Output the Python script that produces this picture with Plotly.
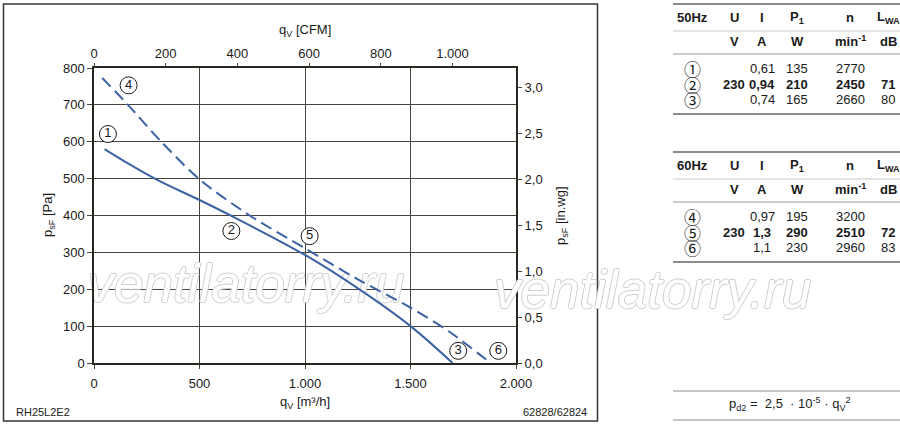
"""Fan curve RH25L2E2 -- static pressure vs. air flow, 50 Hz and 60 Hz."""

import plotly.graph_objects as go

# air flow q_V [m3/h] and static pressure p_sF [Pa]
FLOW_50HZ = [50, 150, 295, 500, 658, 1000, 1244, 1500, 1699]
PRESS_50HZ = [580, 545, 498, 442, 397, 293, 205, 100, 0]
FLOW_60HZ = [39, 153, 319, 500, 738, 1000, 1244, 1500, 1686, 1879]
PRESS_60HZ = [773, 705, 600, 498, 400, 311, 229, 150, 84, 0]

# operating point markers
POINT_NAMES = ['1', '2', '3', '4', '5', '6']
POINT_FLOW = [66, 651, 1726, 164, 1022, 1916]
POINT_PRESS = [621, 358, 33, 753, 344, 33]

FLOW_TICKS = [0, 500, 1000, 1500, 2000]
FLOW_LABELS = ['0', '500', '1.000', '1.500', '2.000']
PRESS_TICKS = [0, 100, 200, 300, 400, 500, 600, 700, 800]
CFM_TICKS = [0, 200, 400, 600, 800, 1000]
CFM_LABELS = ['0', '200', '400', '600', '800', '1.000']
INWG_TICKS = [0, 0.5, 1.0, 1.5, 2.0, 2.5, 3.0]
INWG_LABELS = ['0,0', '0,5', '1,0', '1,5', '2,0', '2,5', '3,0']

M3H_TO_CFM = 0.588578
PA_PER_INWG = 249.089

# data tables
TABLE_HEAD_50 = ['50Hz', 'U', 'I', 'P<sub>1</sub>', 'n', 'L<sub>WA</sub>']
TABLE_HEAD_60 = ['60Hz', 'U', 'I', 'P<sub>1</sub>', 'n', 'L<sub>WA</sub>']
TABLE_UNITS = ['', 'V', 'A', 'W', 'min<sup>-1</sup>', 'dB']
ROWS_50 = [['\u2460', '', '0,61', '135', '2770', ''],
           ['\u2461', '230', '0,94', '210', '2450', '71'],
           ['\u2462', '', '0,74', '165', '2660', '80']]
ROWS_60 = [['\u2463', '', '0,97', '195', '3200', ''],
           ['\u2464', '230', '1,3', '290', '2510', '72'],
           ['\u2465', '', '1,1', '230', '2960', '83']]

FONT = 'Liberation Sans, Arial, sans-serif'
TEXT = '#1a1a1a'
BLUE = '#3b63a3'
GRID = '#4a4440'
FRAME = '#2b2520'

W, H = 900, 426
L, R, T, B = 94, 384, 68, 63


def px(x):
    """pixel x -> paper x"""
    return (x - L) / (W - L - R)


def py(y):
    """pixel y -> paper y"""
    return (H - B - y) / (H - T - B)


mark_font = {'family': FONT, 'size': 53, 'color': 'white', 'style': 'italic',
             'shadow': '1px 0 0 #cfcfcf, -1px 0 0 #cfcfcf, '
                       '0 1px 0 #cfcfcf, 0 -1px 0 #cfcfcf'}

fig = go.Figure()

# watermark inside the plot goes in as a text trace so the curves stay on top of it
fig.add_trace(go.Scatter(x=[px(246) * 2000], y=[py(289) * 800],
                         mode='text', text=['ventilatorry.ru'],
                         textposition='middle center', cliponaxis=False,
                         textfont=mark_font, hoverinfo='skip', showlegend=False))
fig.add_trace(go.Scatter(x=FLOW_50HZ, y=PRESS_50HZ, mode='lines',
                         line={'color': BLUE, 'width': 2, 'shape': 'spline',
                               'smoothing': 1.0},
                         hoverinfo='skip', showlegend=False))
fig.add_trace(go.Scatter(x=FLOW_60HZ, y=PRESS_60HZ, mode='lines',
                         line={'color': BLUE, 'width': 2, 'shape': 'spline',
                               'smoothing': 0.8, 'dash': '12px,6px'},
                         hoverinfo='skip', showlegend=False))
fig.add_trace(go.Scatter(x=POINT_FLOW, y=POINT_PRESS, mode='markers+text',
                         text=POINT_NAMES, textposition='middle center',
                         textfont={'family': FONT, 'size': 13, 'color': TEXT},
                         marker={'size': 17, 'color': 'white',
                                 'line': {'color': TEXT, 'width': 1}},
                         hoverinfo='skip', showlegend=False))
# secondary axes (CFM / in.wg) only need a subplot to exist
fig.add_trace(go.Scatter(x=[], y=[], xaxis='x2', yaxis='y2',
                         hoverinfo='skip', showlegend=False))

axis_font = {'family': FONT, 'size': 13, 'color': TEXT}

fig.update_layout(
    width=W, height=H,
    margin={'l': L, 'r': R, 't': T, 'b': B, 'pad': 0},
    paper_bgcolor='white', plot_bgcolor='white',
    font=axis_font,
    xaxis={'range': [0, 2000], 'tickvals': FLOW_TICKS, 'ticktext': FLOW_LABELS,
           'showgrid': True, 'gridcolor': GRID, 'gridwidth': 1,
           'ticks': 'outside', 'ticklen': 4, 'tickcolor': GRID,
           'showline': True, 'linecolor': FRAME, 'linewidth': 1.5,
           'mirror': True, 'zeroline': False, 'tickfont': axis_font,
           'ticklabelstandoff': 4},
    yaxis={'range': [0, 800], 'tickvals': PRESS_TICKS,
           'showgrid': True, 'gridcolor': GRID, 'gridwidth': 1,
           'ticks': 'outside', 'ticklen': 5, 'tickcolor': GRID,
           'showline': True, 'linecolor': FRAME, 'linewidth': 1.5,
           'mirror': True, 'zeroline': False, 'tickfont': axis_font},
    xaxis2={'overlaying': 'x', 'side': 'top', 'anchor': 'y',
            'range': [0, 2000 * M3H_TO_CFM],
            'tickvals': CFM_TICKS, 'ticktext': CFM_LABELS,
            'showgrid': False, 'zeroline': False, 'showline': False,
            'ticks': 'outside', 'ticklen': 4, 'tickcolor': GRID,
            'tickfont': axis_font},
    yaxis2={'overlaying': 'y', 'side': 'right', 'anchor': 'x',
            'range': [0, 800 / PA_PER_INWG],
            'tickvals': INWG_TICKS, 'ticktext': INWG_LABELS,
            'showgrid': False, 'zeroline': False, 'showline': False,
            'ticks': 'outside', 'ticklen': 5, 'tickcolor': GRID,
            'tickfont': axis_font},
)

ann = []


def add_text(x, y, text, size=13, anchor='center', angle=0, family=FONT, **kw):
    ann.append(dict(x=px(x), y=py(y), xref='paper', yref='paper', text=text,
                    showarrow=False, xanchor=anchor, yanchor='middle',
                    textangle=angle,
                    font={'family': family, 'size': size, 'color': TEXT}, **kw))


# second watermark, outside the curves
ann.append(dict(x=px(652), y=py(289), xref='paper', yref='paper',
                text='ventilatorry.ru', showarrow=False,
                xanchor='center', yanchor='middle', font=mark_font))

# axis titles
add_text(305, 30, 'q<sub>V</sub> [CFM]')
add_text(305, 402, 'q<sub>V</sub> [m\u00b3/h]')
add_text(48, 215, 'p<sub>sF</sub> [Pa]', angle=-90)
add_text(561, 216, 'p<sub>sF</sub> [in.wg]', angle=-90)
add_text(14, 412, 'RH25L2E2', size=11, anchor='left')
add_text(589, 412, '62828/62824', size=11, anchor='right')

# tables
COL_X = [692, 734, 762, 797, 850, 888]
shapes = [dict(type='rect', xref='paper', yref='paper',
               x0=px(3.5), x1=px(597.5), y0=py(421), y1=py(4),
               line={'color': '#3a342e', 'width': 1.5}, layer='below')]


def hline(y, color, width):
    shapes.append(dict(type='line', xref='paper', yref='paper',
                       x0=px(673), x1=px(900), y0=py(y), y1=py(y),
                       line={'color': color, 'width': width}))


for top, head, rows in [(0, TABLE_HEAD_50, ROWS_50), (148, TABLE_HEAD_60, ROWS_60)]:
    hline(top + 4, '#8c8c8c', 2)
    hline(top + 31, '#c8c8c8', 1)
    hline(top + 54, '#9a9a9a', 1.2)
    hline(top + 114, '#8c8c8c', 2)
    for i, cell in enumerate(head):
        add_text(COL_X[i], top + 17, '<b>' + cell + '</b>', size=13)
    for i, cell in enumerate(TABLE_UNITS):
        if cell:
            add_text(COL_X[i], top + 41, '<b>' + cell + '</b>', size=13)
    for r, row in enumerate(rows):
        y = top + 68 + r * 16
        for i, cell in enumerate(row):
            if not cell:
                continue
            if i == 0:
                add_text(COL_X[i], y, cell, size=17, family='Noto Sans CJK JP')
            elif r == 1:
                add_text(COL_X[i], y, '<b>' + cell + '</b>', size=13)
            else:
                add_text(COL_X[i], y, cell, size=13)

# dynamic pressure formula
hline(391, '#8c8c8c', 1.2)
hline(420, '#8c8c8c', 1.2)
add_text(790, 404, 'p<sub>d2</sub> =  2,5  \u00b7 10<sup>-5</sup> \u00b7 q<sub>V</sub><sup>2</sup>',
         size=13)

fig.update_layout(annotations=ann, shapes=shapes)

# the page body has a default 8px margin; drop it so the figure fills the window
fig.write_html('out.html', config={'displayModeBar': False},
               post_script="document.body.style.margin='0';")
